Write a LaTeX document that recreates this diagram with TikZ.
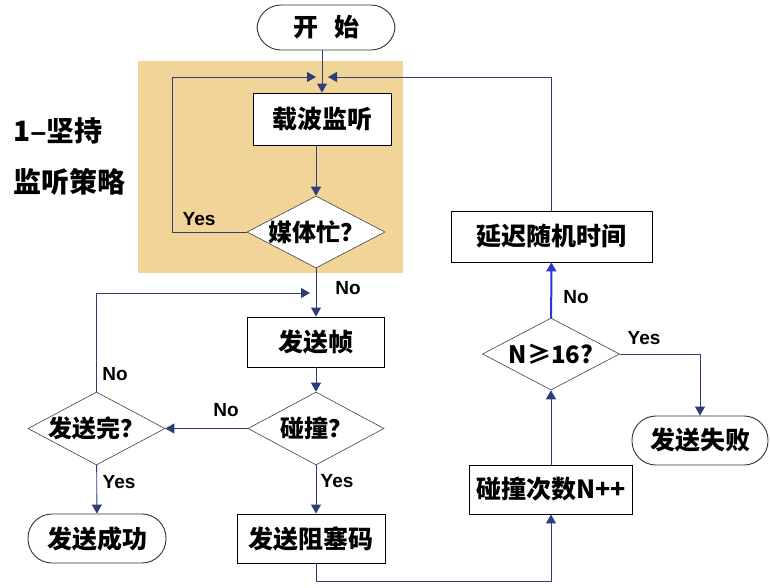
\documentclass[tikz,border=0pt]{standalone}
\usepackage{fontspec}
\setmainfont{Liberation Sans}
\newfontfamily\cjk{Noto Sans CJK SC}
\usetikzlibrary{shapes.geometric,arrows.meta}
\definecolor{tanbg}{RGB}{240,212,152}
\definecolor{navy}{RGB}{47,60,122}
\definecolor{brightblue}{RGB}{51,51,204}
\newcommand{\dtext}[1]{\makebox[0pt]{#1}}

\begin{document}
\begin{tikzpicture}[x=1pt, y=-1pt,
    box/.style={draw, fill=white, line width=0.9pt, inner sep=0pt, font=\cjk\bfseries\fontsize{25}{30}\selectfont},
    term/.style={box, draw=black!80, rounded corners=24pt},
    dia/.style={diamond, draw=black!75, fill=white, line width=0.6pt, inner sep=0pt, font=\cjk\bfseries\fontsize{24}{28}\selectfont},
    lbl/.style={font=\bfseries\fontsize{19}{22}\selectfont},
    side/.style={anchor=west, font=\cjk\bfseries\fontsize{28}{32}\selectfont},
    arr/.style={draw=navy, line width=0.9pt, -{Triangle[width=10pt,length=9pt]}}]
  \useasboundingbox (0,0) rectangle (770,587);
  \fill[tanbg] (138,61) rectangle (403,273);

  \node[side] (t1) at (10,131) {1{\fontspec{Liberation Sans}\bfseries–}坚持};
  \node[side] (t2) at (10,182) {监听策略};

  % left half
  \node[term, minimum width=138, minimum height=45] (start) at (326,27.5) {开\hspace{16pt}始};
  \node[box, minimum width=138, minimum height=52] (listen) at (322,119) {载波监听};
  \node[dia, minimum width=138, minimum height=72] (busy) at (316,232) {\dtext{媒体忙？}};
  \node[box, minimum width=137, minimum height=50] (sendf) at (316,342) {发送帧};
  \node[dia, minimum width=136, minimum height=73] (collide) at (316,428.5) {\dtext{碰撞？}};
  \node[dia, minimum width=137, minimum height=73] (done) at (96.5,428.5) {\dtext{发送完？}};
  \node[term, minimum width=138, minimum height=49] (ok) at (97,538.5) {发送成功};
  \node[box, minimum width=148, minimum height=49] (jam) at (311,538.5) {发送阻塞码};

  % right half
  \node[box, minimum width=163, minimum height=49] (cnt) at (551,489.5) {碰撞次数N++};
  \node[dia, minimum width=137, minimum height=72] (n16) at (551,354) {\dtext{N≥16?}};
  \node[box, minimum width=201, minimum height=51] (delay) at (551.5,236.5) {延迟随机时间};
  \node[term, minimum width=136, minimum height=49] (fail) at (700,440.5) {发送失败};

  \coordinate (inL) at (316,77);
  \coordinate (inR) at (328,77);
  \coordinate (inS) at (310,293);

  \draw[arr] (start.south -| listen) -- (listen.north);
  \draw[arr] (busy |- listen.south) -- (busy.north);
  \draw[arr] (busy.west) -- ++(-74,0) |- (inL);
  \draw[arr] (delay.north) |- (inR);
  \draw[arr] (busy) -- (sendf);
  \draw[arr] (sendf) -- (collide);
  \draw[arr] (collide) -- (done);
  \draw[arr] (done.north) |- (inS);
  \draw[arr] (done) -- (ok);
  \draw[arr] (collide.south) -- (collide |- jam.north);
  \draw[arr] (collide |- jam.south) -- ++(0,18) -| (cnt.south);
  \draw[arr] (cnt) -- (n16);
  \draw[arr, draw=brightblue, line width=2pt] (n16) -- (delay);
  \draw[arr] (n16.east) -| (fail.north);

  \node[lbl] (y1) at (199,219) {Yes};
  \node[lbl] (n1) at (348,288) {No};
  \node[lbl] (n2) at (226,410) {No};
  \node[lbl] (n3) at (115,374) {No};
  \node[lbl] (y2) at (119,482) {Yes};
  \node[lbl] (y3) at (337,481) {Yes};
  \node[lbl] (n4) at (576,297) {No};
  \node[lbl] (y4) at (644,338) {Yes};
\end{tikzpicture}
\end{document}
